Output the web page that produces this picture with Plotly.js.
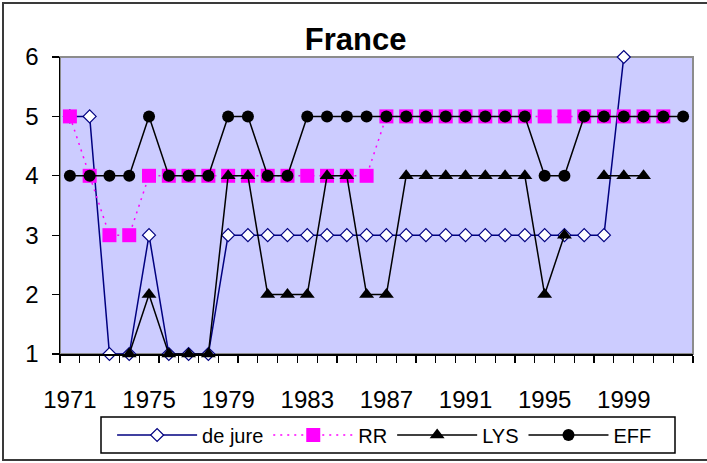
<!DOCTYPE html>
<html>
<head>
<meta charset="utf-8">
<script src="https://cdn.plot.ly/plotly-3.0.1.min.js"></script>
<style>
  html, body { margin: 0; padding: 0; background: #fff; }
  #wrap { position: relative; width: 707px; height: 463px; overflow: hidden; }
  #chart { position: absolute; left: 0; top: 0; width: 707px; height: 463px; }
  /* outer chart frame */
  #frame { position: absolute; left: 2px; top: 2px; width: 730px; height: 455px;
           border: 2px solid #3a3a3a; pointer-events: none; }
</style>
</head>
<body>
<div id="wrap">
  <div id="chart"></div>
  <div id="frame"></div>
</div>
<script>
// Years on the category axis
const years = [1971,1972,1973,1974,1975,1976,1977,1978,1979,1980,
               1981,1982,1983,1984,1985,1986,1987,1988,1989,1990,
               1991,1992,1993,1994,1995,1996,1997,1998,1999,2000,
               2001,2002];

// Exchange-rate regime classifications for France
const deJure = [5,5,1,1,3,1,1,1,3,3,
                3,3,3,3,3,3,3,3,3,3,
                3,3,3,3,3,3,3,3,6,null,
                null,null];
const rr     = [5,4,3,3,4,4,4,4,4,4,
                4,4,4,4,4,4,5,5,5,5,
                5,5,5,5,5,5,5,5,5,5,
                5,null];
const lys    = [null,null,null,1,2,1,1,1,4,4,
                2,2,2,4,4,2,2,4,4,4,
                4,4,4,4,2,3,null,4,4,4,
                null,null];
const eff    = [4,4,4,4,5,4,4,4,5,5,
                4,4,5,5,5,5,5,5,5,5,
                5,5,5,5,4,4,5,5,5,5,
                5,5];

// Labelled years and y tick values
const xLabelYears = [1971,1975,1979,1983,1987,1991,1995,1999];
const yTicks = [1,2,3,4,5,6];

// Tick marks sit on the boundaries between yearly categories
const boundaries = years.map(y => y - 0.5).concat([years[years.length - 1] + 0.5]);

const FONT = '"Liberation Sans", Arial, sans-serif';

const traces = [
  {
    x: years, y: deJure, name: 'de jure', type: 'scatter', mode: 'lines+markers',
    line: {color: '#000080', width: 1.5},
    marker: {symbol: 'diamond', size: 10, color: '#ffffff', line: {color: '#000080', width: 1.2}},
    cliponaxis: false
  },
  {
    x: years, y: rr, name: 'RR', type: 'scatter', mode: 'lines+markers',
    line: {color: '#ff00ff', width: 1.5, dash: '2px,5px'},
    marker: {symbol: 'square', size: 14, color: '#ff00ff'},
    cliponaxis: false
  },
  {
    x: years, y: lys, name: 'LYS', type: 'scatter', mode: 'lines+markers',
    line: {color: '#000000', width: 1.5},
    marker: {symbol: 'triangle-up', size: 13, color: '#000000'},
    cliponaxis: false
  },
  {
    x: years, y: eff, name: 'EFF', type: 'scatter', mode: 'lines+markers',
    line: {color: '#000000', width: 1.5},
    marker: {symbol: 'circle', size: 12, color: '#000000'},
    cliponaxis: false
  }
];

const layout = {
  width: 707, height: 463,
  margin: {l: 60, r: 14, t: 57, b: 109},
  paper_bgcolor: '#ffffff',
  plot_bgcolor: '#ccccff',
  font: {family: FONT, color: '#000000'},
  title: {
    text: '<b>France</b>',
    font: {family: FONT, size: 31, color: '#000000'},
    xref: 'container', x: 0.503, xanchor: 'center',
    yref: 'container', y: 0.915, yanchor: 'middle'
  },
  xaxis: {
    range: [1970.5, 2002.5],
    tickvals: xLabelYears,
    ticktext: xLabelYears.map(String),
    ticks: '',
    tickfont: {family: FONT, size: 24, color: '#000000'},
    ticklabelstandoff: 24,
    showgrid: false, zeroline: false,
    showline: true, linecolor: '#000000', linewidth: 1.5,
    minor: {tickvals: boundaries, ticks: 'outside', ticklen: 7, tickcolor: '#000000', tickwidth: 1.2, showgrid: false}
  },
  yaxis: {
    range: [1, 6],
    tickvals: yTicks,
    ticks: 'outside', ticklen: 7, tickcolor: '#000000', tickwidth: 1.2,
    tickfont: {family: FONT, size: 24, color: '#000000'},
    ticklabelstandoff: 8,
    showgrid: false, zeroline: false,
    showline: true, linecolor: '#000000', linewidth: 1.5
  },
  shapes: [
    // plot-area border
    {type: 'rect', xref: 'paper', yref: 'paper', x0: 0, x1: 1, y0: 0, y1: 1,
     line: {color: '#8c8c8c', width: 2}, layer: 'below'},
    // legend box
    {type: 'rect', xref: 'paper', yref: 'paper',
     x0: (101 - 60) / 633, x1: (675 - 60) / 633,
     y0: (354 - 453) / 297, y1: (354 - 417) / 297,
     line: {color: '#000000', width: 1.5}, fillcolor: 'rgba(0,0,0,0)', layer: 'above'}
  ],
  showlegend: true,
  legend: {
    orientation: 'h',
    xref: 'container', x: 0.544, xanchor: 'center',
    yref: 'container', y: 1 - 435 / 463, yanchor: 'middle',
    bgcolor: 'rgba(0,0,0,0)',
    borderwidth: 0,
    font: {family: FONT, size: 20, color: '#000000'},
    itemwidth: 80,
    traceorder: 'normal'
  }
};

Plotly.newPlot('chart', traces, layout, {displayModeBar: false, staticPlot: true});
</script>
</body>
</html>
